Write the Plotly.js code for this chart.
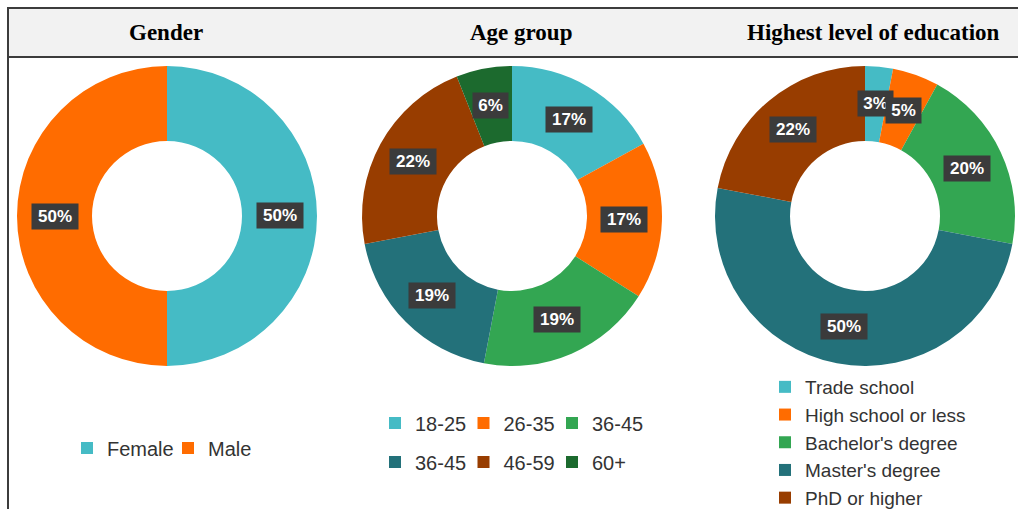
<!DOCTYPE html>
<html>
<head>
<meta charset="utf-8">
<script src="https://cdn.plot.ly/plotly-3.0.1.min.js"></script>
<style>
  html, body { margin: 0; padding: 0; background: #ffffff; }
  #plot { width: 1018px; height: 509px; }
</style>
</head>
<body>
<div id="plot"></div>
<script>
// ---------- data ----------
const panelTitles = ['Gender', 'Age group', 'Highest level of education'];

const genderLabels = ['Female', 'Male'];
const genderValues = [50, 50];
const genderColors = ['#45BBC5', '#FF6C00'];

const ageLabels = ['18-25', '26-35', '36-45', '36-45', '46-59', '60+'];
const ageValues = [17, 17, 19, 19, 22, 6];
const ageColors = ['#45BBC5', '#FF6C00', '#33A652', '#23717A', '#983D00', '#1C6A2E'];

const eduLabels = ['Trade school', 'High school or less', "Bachelor's degree", "Master's degree", 'PhD or higher'];
const eduValues = [3, 5, 20, 50, 22];
const eduColors = ['#45BBC5', '#FF6C00', '#33A652', '#23717A', '#983D00'];

// ---------- layout geometry ----------
const W = 1018, H = 509;
const pies = [
  { cx: 167, cy: 216, R: 150 },
  { cx: 512, cy: 216, R: 150 },
  { cx: 865, cy: 216, R: 150 }
];
const titleX = [166, 521, 873];
const HOLE = 0.5;

function domainFor(p) {
  return {
    x: [(p.cx - p.R) / W, (p.cx + p.R) / W],
    y: [1 - (p.cy + p.R) / H, 1 - (p.cy - p.R) / H]
  };
}

// percentage label boxes placed at the middle of each ring segment
function labelAnnotations(values, p) {
  const total = values.reduce((a, b) => a + b, 0);
  const rl = p.R * (1 + HOLE) / 2;
  let cum = 0;
  const out = [];
  values.forEach(v => {
    const mid = (cum + v / 2) / total * 2 * Math.PI;
    cum += v;
    const px = p.cx + rl * Math.sin(mid);
    const py = p.cy - rl * Math.cos(mid);
    const txt = Math.round(v / total * 100) + '%';
    out.push({
      xref: 'paper', yref: 'paper',
      x: px / W, y: 1 - py / H,
      xanchor: 'center', yanchor: 'middle',
      text: txt, showarrow: false,
      bgcolor: '#3b3b3b',
      width: 11 * txt.length + 11, height: 23,
      font: { family: 'Liberation Sans, Arial, sans-serif', size: 17, color: '#ffffff', weight: 'bold' }
    });
  });
  return out;
}

const traces = [
  {
    type: 'pie', labels: genderLabels, values: genderValues,
    marker: { colors: genderColors, line: { width: 0 } },
    hole: HOLE, sort: false, direction: 'clockwise', rotation: 0,
    textinfo: 'none', hoverinfo: 'skip',
    domain: domainFor(pies[0]), legend: 'legend', showlegend: true
  },
  {
    type: 'pie', values: ageValues,
    marker: { colors: ageColors, line: { width: 0 } },
    hole: HOLE, sort: false, direction: 'clockwise', rotation: 0,
    textinfo: 'none', hoverinfo: 'skip',
    domain: domainFor(pies[1]), showlegend: false
  },
  {
    type: 'pie', labels: eduLabels, values: eduValues,
    marker: { colors: eduColors, line: { width: 0 } },
    hole: HOLE, sort: false, direction: 'clockwise', rotation: 0,
    textinfo: 'none', hoverinfo: 'skip',
    domain: domainFor(pies[2]), legend: 'legend3', showlegend: true
  }
];

// age legend entries (two rows of three)
ageLabels.forEach((lab, i) => {
  const t = {
    type: 'scatter', mode: 'markers', x: [null], y: [null],
    name: lab, showlegend: true, hoverinfo: 'skip',
    marker: { symbol: 'square', size: 12, color: ageColors[i] },
    legend: i < 3 ? 'legend2' : 'legend4'
  };
  if (i % 3 === 2) t.legendwidth = 70; // last entry of a row: room for its text
  traces.push(t);
});

const legendFont = { family: 'Liberation Sans, Arial, sans-serif', size: 20, color: '#333333' };

const annotations = [];
panelTitles.forEach((t, i) => {
  annotations.push({
    xref: 'paper', yref: 'paper', x: titleX[i] / W, y: 1 - 33 / H,
    xanchor: 'center', yanchor: 'middle', showarrow: false, text: t,
    font: { family: 'Liberation Serif, Times New Roman, serif', size: 23, color: '#000000', weight: 'bold' }
  });
});
annotations.push(...labelAnnotations(genderValues, pies[0]));
annotations.push(...labelAnnotations(ageValues, pies[1]));
annotations.push(...labelAnnotations(eduValues, pies[2]));

const layout = {
  width: W, height: H,
  margin: { l: 0, r: 0, t: 0, b: 0, autoexpand: false },
  paper_bgcolor: '#ffffff', plot_bgcolor: 'rgba(0,0,0,0)',
  xaxis: { visible: false, range: [0, 1], fixedrange: true },
  yaxis: { visible: false, range: [0, 1], fixedrange: true },
  showlegend: true,
  legend: {
    orientation: 'h', x: 67 / W, xanchor: 'left', y: 1 - 428.5 / H, yanchor: 'top',
    entrywidth: 56, entrywidthmode: 'pixels', bgcolor: 'rgba(0,0,0,0)', font: legendFont
  },
  legend2: {
    orientation: 'h', x: 375 / W, xanchor: 'left', y: 1 - 403.5 / H, yanchor: 'top',
    entrywidth: 43.5, entrywidthmode: 'pixels', bgcolor: 'rgba(0,0,0,0)', font: legendFont
  },
  legend4: {
    orientation: 'h', x: 375 / W, xanchor: 'left', y: 1 - 442.5 / H, yanchor: 'top',
    entrywidth: 43.5, entrywidthmode: 'pixels', bgcolor: 'rgba(0,0,0,0)', font: legendFont
  },
  legend3: {
    orientation: 'v', x: 765 / W, xanchor: 'left', y: 1 - 368 / H, yanchor: 'top',
    bgcolor: 'rgba(0,0,0,0)', font: Object.assign({}, legendFont, { size: 19 })
  },
  shapes: [
    { type: 'rect', xref: 'paper', yref: 'paper', x0: 8 / W, x1: 1.01, y0: 1 - 57 / H, y1: 1 - 8 / H,
      fillcolor: '#f2f2f2', line: { color: '#3c3c3c', width: 2 }, layer: 'below' },
    { type: 'line', xref: 'paper', yref: 'paper', x0: 8 / W, x1: 8 / W, y0: -0.01, y1: 1 - 8 / H,
      line: { color: '#3c3c3c', width: 2 } }
  ],
  annotations: annotations
};

Plotly.newPlot('plot', traces, layout, { staticPlot: true, displayModeBar: false });
</script>
</body>
</html>
